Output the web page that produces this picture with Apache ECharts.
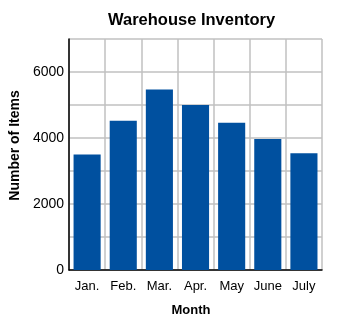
<!DOCTYPE html>
<html><head><meta charset="utf-8">
<script src="https://cdn.jsdelivr.net/npm/echarts@6/dist/echarts.min.js"></script>
<style>html,body{margin:0;padding:0;background:#fff}#c{width:350px;height:325px}</style>
</head><body><div id="c"></div>
<script>
const months = ["Jan.","Feb.","Mar.","Apr.","May","June","July"];
const items = [3500, 4520, 5470, 5000, 4460, 3970, 3540];
const chart = echarts.init(document.getElementById('c'), null, {renderer:'canvas'});
chart.setOption({
  animation:false,
  title:{text:"Warehouse Inventory", left:108, top:12, padding:0,
    textStyle:{fontFamily:"Liberation Sans", fontSize:16.5, fontWeight:'bold', color:'#000'}},
  grid:{left:67, right:28, top:39, bottom:55},
  xAxis:{type:'category', data:months, name:"Month", nameLocation:'middle', nameGap:34,
    nameTextStyle:{fontFamily:"Liberation Sans", fontSize:13, fontWeight:'bold', color:'#000', padding:[0,9,0,0]},
    axisLine:{lineStyle:{color:'#000', width:1.5}}, axisTick:{show:false},
    axisLabel:{interval:0, fontFamily:"Liberation Sans", fontSize:13, color:'#000', margin:10},
    splitLine:{show:true, interval:0, lineStyle:{color:'#c0c0c0', width:1.5}}},
  yAxis:{type:'value', min:0, max:7000, interval:1000, name:"Number of Items", nameLocation:'middle', nameGap:45,
    nameTextStyle:{fontFamily:"Liberation Sans", fontSize:14, fontWeight:'bold', color:'#000', padding:[0,0,0,18]},
    axisLine:{show:true, lineStyle:{color:'#000', width:1.5}}, axisTick:{show:false},
    axisLabel:{fontFamily:"Liberation Sans", fontSize:14, color:'#000', margin:5,
      formatter:function(v){return v%2000===0?String(v):'';}},
    splitLine:{show:true, lineStyle:{color:'#c0c0c0', width:1.5}}},
  series:[{type:'bar', data:items, barCategoryGap:'25%', itemStyle:{color:'#00509f'}}]
});
</script></body></html>
